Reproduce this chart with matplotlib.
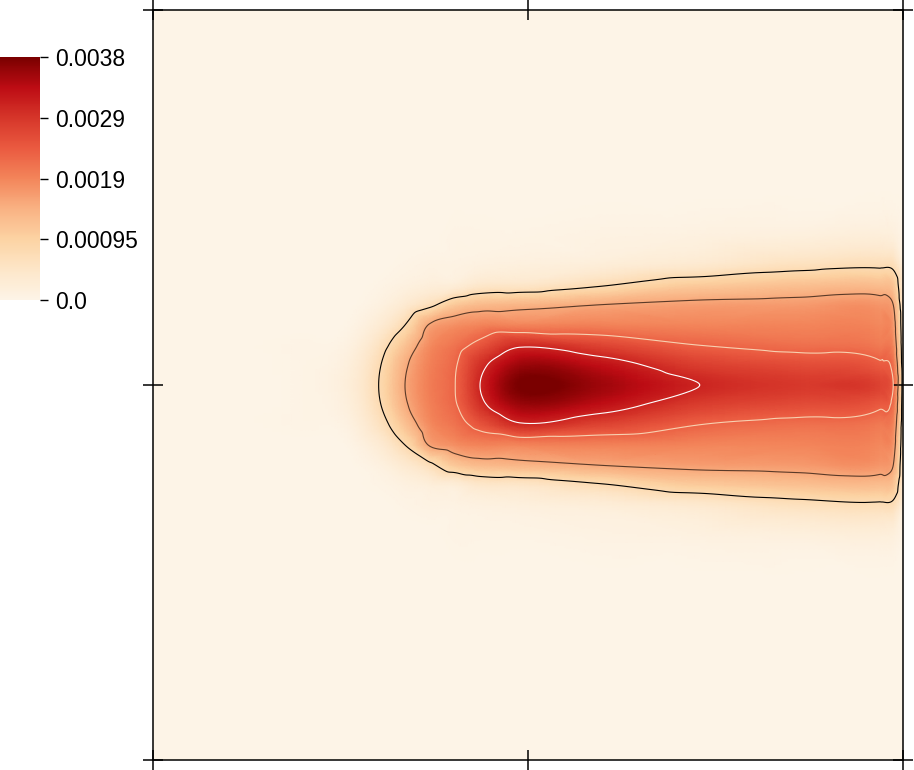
import numpy as np
import matplotlib
matplotlib.use('Agg')
import matplotlib.pyplot as plt
import matplotlib.tri as mtri
from matplotlib.colors import LinearSegmentedColormap

# valor maximo de la escala
vmax = 0.0038

# posiciones de las columnas (x, normalizado 0..1) y filas (distancia al eje, normalizada)
x_cols = [0.0, 0.196, 0.263, 0.303, 0.336, 0.369, 0.403, 0.436, 0.489, 0.596, 0.729, 0.863, 0.969, 0.987, 1.0]
dy_rows = [0.0, 0.027, 0.053, 0.08, 0.107, 0.133, 0.16, 0.2, 0.267, 0.5]

# fraccion del maximo: filas = dy_rows, columnas = x_cols
half = [
    [0, 0.01, 0.06, 0.21, 0.40, 0.52, 0.60, 0.80, 1.00, 0.93, 0.80, 0.74, 0.70, 0.60, 0.15],
    [0, 0.01, 0.05, 0.195, 0.38, 0.51, 0.59, 0.76, 0.93, 0.86, 0.72, 0.67, 0.62, 0.55, 0.14],
    [0, 0.01, 0.03, 0.15, 0.31, 0.48, 0.55, 0.64, 0.78, 0.70, 0.60, 0.56, 0.53, 0.49, 0.13],
    [0, 0.0, 0.01, 0.08, 0.20, 0.41, 0.47, 0.50, 0.50, 0.51, 0.50, 0.50, 0.49, 0.45, 0.12],
    [0, 0.0, 0.0, 0.03, 0.09, 0.17, 0.29, 0.34, 0.36, 0.40, 0.43, 0.44, 0.45, 0.40, 0.10],
    [0, 0.0, 0.0, 0.01, 0.03, 0.05, 0.06, 0.11, 0.12, 0.19, 0.28, 0.32, 0.33, 0.30, 0.08],
    [0, 0.0, 0.0, 0.0, 0.01, 0.02, 0.02, 0.03, 0.04, 0.06, 0.10, 0.16, 0.18, 0.17, 0.05],
    [0, 0.0, 0.0, 0.0, 0.0, 0.0, 0.01, 0.01, 0.01, 0.02, 0.03, 0.04, 0.05, 0.04, 0.01],
    [0, 0, 0, 0, 0, 0, 0, 0, 0, 0, 0, 0, 0, 0, 0],
    [0, 0, 0, 0, 0, 0, 0, 0, 0, 0, 0, 0, 0, 0, 0],
]

niveles = [0.2 * vmax, 0.4 * vmax, 0.6 * vmax, 0.8 * vmax]
colores_niveles = ['#000000', '#5a3a28', '#f8d0b0', '#ffffff']

cb_ticks = [0.0, 0.00095, 0.0019, 0.00285, 0.0038]
cb_labels = ['0.0', '0.00095', '0.0019', '0.0029', '0.0038']

colores_mapa = ['#fdf4e7', '#fde6c8', '#fcd3a3', '#f9b283', '#f3855a',
                '#ea5a40', '#d6362a', '#bd0c14', '#7a0000']
cmap = LinearSegmentedColormap.from_list('rojos', colores_mapa)

# malla completa (simetrica respecto a y = 0.5)
half = np.array(half) * vmax
campo = np.vstack([half[::-1], half[1:]])
dy = np.array(dy_rows)
y_rows = np.concatenate([0.5 - dy[::-1], 0.5 + dy[1:]])
X, Y = np.meshgrid(x_cols, y_rows)

tri = mtri.Triangulation(X.ravel(), Y.ravel())
interp = mtri.CubicTriInterpolator(tri, campo.ravel(), kind='geom')
refiner = mtri.UniformTriRefiner(tri)
tri_f, z_f = refiner.refine_field(campo.ravel(), triinterpolator=interp, subdiv=4)

plt.rcParams['font.family'] = ['Liberation Sans', 'DejaVu Sans']

fig = plt.figure(figsize=(9.14, 7.70), dpi=100)
ax = fig.add_axes([153 / 914, 10 / 770, 750 / 914, 750 / 770])

im = ax.tripcolor(tri_f, z_f, shading='gouraud', cmap=cmap, vmin=0, vmax=vmax)
ax.tricontour(tri_f, z_f, levels=niveles, colors=colores_niveles, linewidths=0.8)

ax.set_xlim(0, 1)
ax.set_ylim(0, 1)
ax.set_xticks([0, 0.5, 1])
ax.set_yticks([0, 0.5, 1])
ax.tick_params(direction='inout', length=14.5, width=1.1, top=True, right=True,
               labelbottom=False, labelleft=False)
for s in ax.spines.values():
    s.set_linewidth(1.1)

# barra de color
cax = fig.add_axes([0, (770 - 300) / 770, 40 / 914, 243 / 770])
cb = fig.colorbar(im, cax=cax, ticks=cb_ticks)
cb.outline.set_visible(False)
cb.ax.set_yticklabels(cb_labels)
cb.ax.tick_params(length=6, width=1.0, pad=5, labelsize=16.5)

fig.savefig('out.png', dpi=100)
